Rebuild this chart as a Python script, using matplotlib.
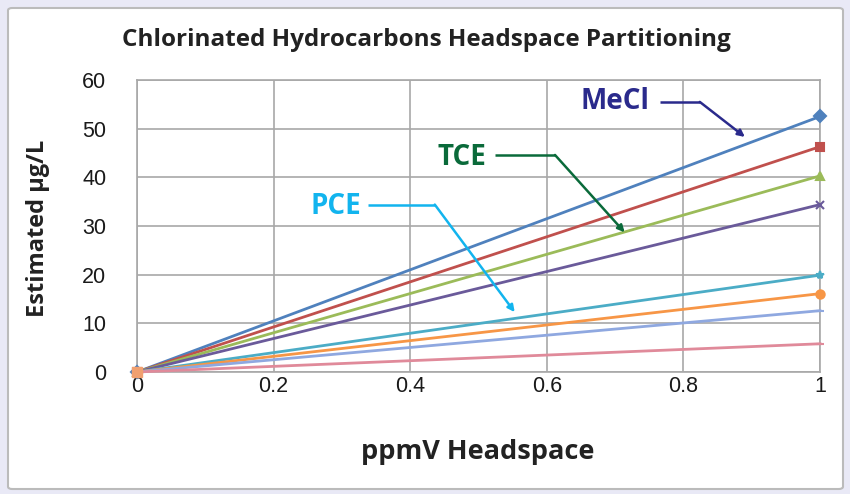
import matplotlib
matplotlib.use("Agg")
import matplotlib.pyplot as plt
from matplotlib.patches import FancyBboxPatch

# Data
x_vals = [0, 1]
series_names = ["MeCl", "S2", "TCE", "S4", "S5", "S6", "PCE", "S8"]
end_values = [52.5, 46.3, 40.3, 34.4, 19.9, 16.1, 12.6, 5.8]
colors = ["#4F81BD", "#C0504D", "#9BBB59", "#6A5A9A", "#4BACC6", "#F79646", "#8FA8E0", "#E08A9A"]
markers = ["D", "s", "^", "x", "*", "o", "_", "_"]
x_ticks = [0, 0.2, 0.4, 0.6, 0.8, 1]
x_ticklabels = ["0", "0.2", "0.4", "0.6", "0.8", "1"]
y_ticks = [0, 10, 20, 30, 40, 50, 60]

title = "Chlorinated Hydrocarbons Headspace Partitioning"
xlabel = "ppmV Headspace"
ylabel = "Estimated µg/L"

fig = plt.figure(figsize=(8.5, 4.94), dpi=100)
fig.patch.set_facecolor("#E9E9F6")
box = FancyBboxPatch((8/850, 1-489/494), (843-8)/850, (489-8)/494,
                     boxstyle="round,pad=0,rounding_size=0.005",
                     transform=fig.transFigure, facecolor="white",
                     edgecolor="#BBBBBB", linewidth=1.5, zorder=-10)
fig.patches.append(box)

ax = fig.add_axes([137/850, 1-372/494, (820-137)/850, (372-80)/494])
ax.set_facecolor("white")

for name, v, c, m in zip(series_names, end_values, colors, markers):
    ax.plot(x_vals, [0, v], color=c, lw=2.0, marker=m, markersize=6,
            markeredgewidth=1.5, clip_on=False, zorder=3)
ax.plot([0], [0], marker="s", color="#F0A070", markersize=7, clip_on=False, zorder=4)

ax.set_xlim(0, 1)
ax.set_ylim(0, 60)
ax.set_xticks(x_ticks)
ax.set_xticklabels(x_ticklabels)
ax.set_yticks(y_ticks)
ax.grid(True, color="#A8A8A8", lw=1.2)
ax.set_axisbelow(True)
for s in ax.spines.values():
    s.set_color("#A8A8A8")
    s.set_linewidth(1.2)
ax.tick_params(axis="both", length=0, labelsize=15.5, colors="#1a1a1a")
ax.tick_params(axis="y", pad=22)
ax.tick_params(axis="x", pad=3)
for lab in ax.get_xticklabels() + ax.get_yticklabels():
    lab.set_family("Liberation Sans")

fig.text(426/850, 1-40/494, title, ha="center", va="center", fontsize=17.5,
         fontweight="bold", family="Open Sans", color="#222222")
fig.text(478/850, 1-452/494, xlabel, ha="center", va="center", fontsize=19.5,
         fontweight="bold", family="Open Sans", color="#222222")
fig.text(38/850, 1-228/494, ylabel, ha="center", va="center", rotation=90,
         fontsize=17, fontweight="bold", family="Open Sans", color="#222222")

# Annotations
def callout(text, color, txy, p1, p2, tip):
    ax.text(*txy, text, color=color, fontsize=20, fontweight="bold",
            family="Open Sans", ha="center", va="center", zorder=6)
    ax.plot([p1[0], p2[0]], [p1[1], p2[1]], color=color, lw=1.8, zorder=6,
            solid_capstyle="butt")
    ax.annotate("", xy=tip, xytext=p2,
                arrowprops=dict(arrowstyle="-|>", color=color, lw=1.8,
                                mutation_scale=10, shrinkA=0, shrinkB=0), zorder=6)

callout("MeCl", "#2A2A8C", (0.700, 55.5), (0.766, 55.5), (0.824, 55.5), (0.890, 48.3))
callout("TCE", "#0A6A3A", (0.476, 44.0), (0.524, 44.6), (0.612, 44.6), (0.714, 28.7))
callout("PCE", "#12B4EE", (0.291, 34.0), (0.338, 34.4), (0.436, 34.4), (0.553, 12.3))

fig.savefig("out.png", dpi=100, facecolor=fig.get_facecolor())
